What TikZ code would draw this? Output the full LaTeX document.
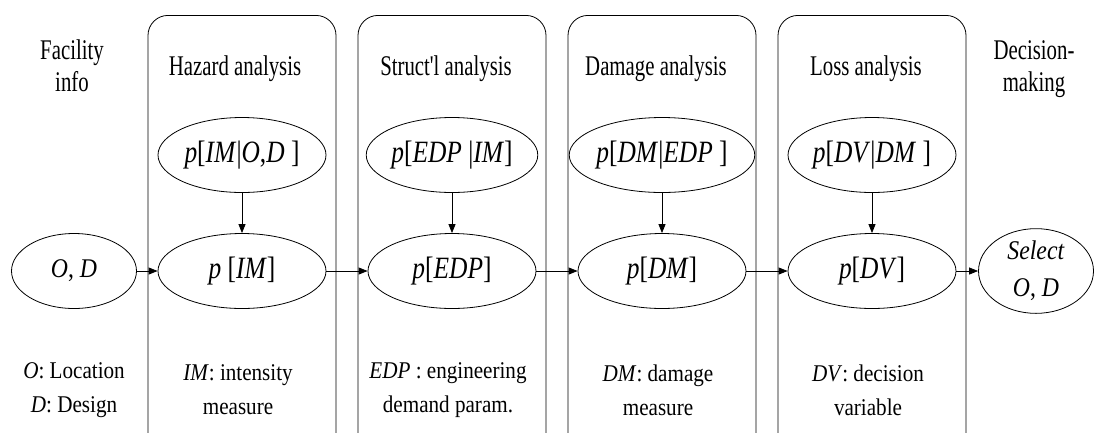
\documentclass[tikz,border=0pt]{standalone}
\usepackage{fontspec}
\setmainfont{Liberation Serif}
\newfontfamily\hfont[FakeStretch=0.73]{Liberation Serif}
\newfontfamily\efont[FakeStretch=0.82]{Liberation Serif}
\newfontfamily\bfont[FakeStretch=0.88]{Liberation Serif}
\usetikzlibrary{shapes.geometric,arrows.meta}
\begin{document}
\begin{tikzpicture}[x=1pt,y=-1pt,
  every node/.style={inner sep=0pt},
  box/.style={draw, rounded corners=20pt, line width=0.8pt, minimum width=188pt, minimum height=440pt, anchor=north},
  ell/.style={draw, ellipse, line width=0.8pt, minimum width=168pt, minimum height=75pt, font=\efont\fontsize{31}{34}\selectfont},
  lbl/.style={align=center, font=\hfont\fontsize{28.5}{32}\selectfont},
  dfn/.style={align=center, font=\bfont\fontsize{24}{34}\selectfont},
  arr/.style={-{Triangle[length=9pt,width=7pt]}, line width=0.8pt}]
\useasboundingbox (0,0) rectangle (1094,432);
\clip (0,0) rectangle (1094,432);
\fill[white] (0,0) rectangle (1094,432);
% column boxes
\node[box] (b1) at (242,15) {};
\node[box] (b2) at (452,15) {};
\node[box] (b3) at (662,15) {};
\node[box] (b4) at (872,15) {};
% headings
\node[lbl] (h0) at (72,66) {Facility\\info};
\node[lbl] (h1) at (235,69) {Hazard analysis};
\node[lbl] (h2) at (446,69) {Struct'l analysis};
\node[lbl] (h3) at (656,69) {Damage analysis};
\node[lbl] (h4) at (866,69) {Loss analysis};
\node[lbl] (h5) at (1034,69) {Decision-\\making};
% conditional ellipses
\node[ell] (c1) at (242,155) {\textit{p}[\textit{IM}|\textit{O},\textit{D} ]};
\node[ell] (c2) at (452,155) {\textit{p}[\textit{EDP} |\textit{IM}]};
\node[ell] (c3) at (662,155) {\textit{p}[\textit{DM}|\textit{EDP} ]};
\node[ell] (c4) at (872,155) {\textit{p}[\textit{DV}|\textit{DM} ]};
% main ellipses
\node[ell, minimum width=125pt, font=\bfont\fontsize{27}{30}\selectfont] (od) at (74,271) {\textit{O}, \textit{D}};
\node[ell] (m1) at (242,271) {\textit{p} [\textit{IM}]};
\node[ell] (m2) at (452,271) {\textit{p}[\textit{EDP}]};
\node[ell] (m3) at (662,271) {\textit{p}[\textit{DM}]};
\node[ell] (m4) at (872,271) {\textit{p}[\textit{DV}]};
\node[ell, minimum width=115pt, minimum height=77pt, align=center, font=\bfont\fontsize{27}{37}\selectfont] (sel) at (1036,271) {\textit{Select}\\\textit{O}, \textit{D}};
% arrows
\draw[arr] (od) -- (m1);
\draw[arr] (m1) -- (m2);
\draw[arr] (m2) -- (m3);
\draw[arr] (m3) -- (m4);
\draw[arr] (m4) -- (sel);
\draw[arr] (c1) -- (m1);
\draw[arr] (c2) -- (m2);
\draw[arr] (c3) -- (m3);
\draw[arr] (c4) -- (m4);
% definitions
\node[dfn] (d0) at (74,390) {\textit{O}: Location\\\textit{D}: Design};
\node[dfn] (d1) at (238,390) {\textit{IM}: intensity\\measure};
\node[dfn] (d2) at (448,390) {\textit{EDP} : engineering\\demand param.};
\node[dfn] (d3) at (658,390) {\textit{DM}: damage\\measure};
\node[dfn] (d4) at (868,390) {\textit{DV}: decision\\variable};
\end{tikzpicture}
\end{document}
